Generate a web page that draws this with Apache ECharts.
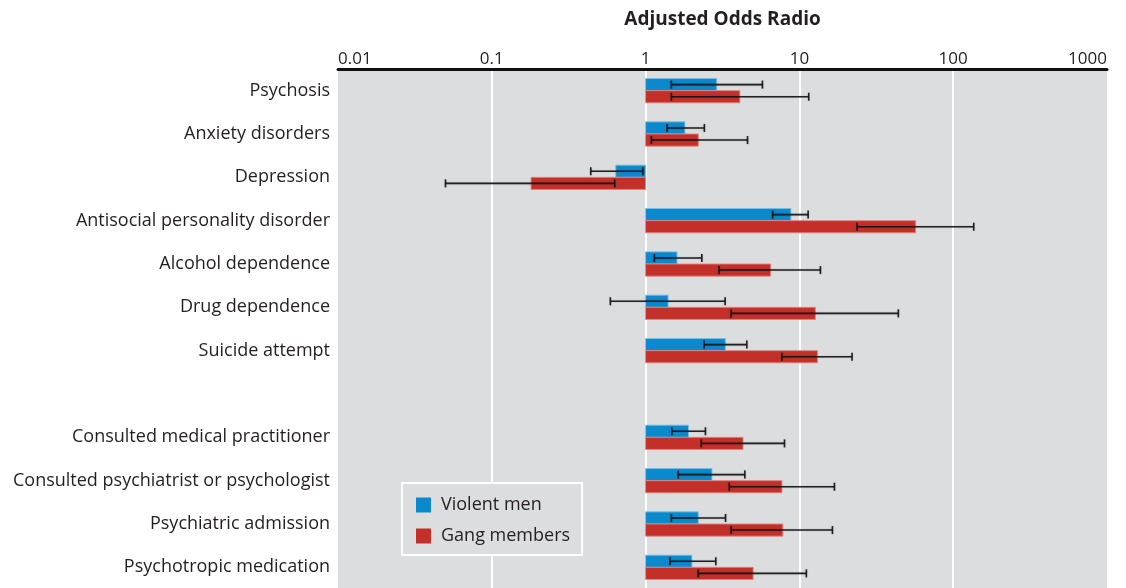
<!DOCTYPE html>
<html>
<head>
<meta charset="utf-8">
<script src="https://cdn.jsdelivr.net/npm/echarts@6/dist/echarts.min.js"></script>
<style>
  html, body { margin: 0; padding: 0; background: #ffffff; }
  #chart { width: 1126px; height: 588px; }
</style>
</head>
<body>
<div id="chart"></div>
<script>
// Row labels (blank entry separates the two groups of outcomes)
const categories = [
  'Psychosis',
  'Anxiety disorders',
  'Depression',
  'Antisocial personality disorder',
  'Alcohol dependence',
  'Drug dependence',
  'Suicide attempt',
  '',
  'Consulted medical practitioner',
  'Consulted psychiatrist or psychologist',
  'Psychiatric admission',
  'Psychotropic medication'
];

// Adjusted odds ratios with 95% confidence limits
const violentOR   = [2.9, 1.8, 0.64, 8.8, 1.6, 1.4, 3.3, null, 1.9, 2.7, 2.2, 2.0];
const violentLow  = [1.47, 1.38, 0.44, 6.7, 1.14, 0.59, 2.4, null, 1.48, 1.63, 1.47, 1.44];
const violentHigh = [5.75, 2.41, 0.96, 11.4, 2.32, 3.29, 4.55, null, 2.45, 4.42, 3.31, 2.86];

const gangOR   = [4.1, 2.2, 0.18, 57, 6.5, 12.7, 13.1, null, 4.3, 7.7, 7.8, 5.0];
const gangLow  = [1.47, 1.09, 0.05, 23.7, 3.0, 3.6, 7.7, null, 2.3, 3.5, 3.6, 2.2];
const gangHigh = [11.5, 4.6, 0.63, 136, 13.7, 44, 22, null, 8.0, 16.9, 16.4, 11.1];

const tickLabels = ['0.01', '0.1', '1', '10', '100', '1000'];

const FONT = '"Open Sans"';

function rows(or, low, high) {
  const out = [];
  for (let i = 0; i < categories.length; i++) {
    if (or[i] == null) continue;
    out.push([or[i], i, low[i], high[i]]);
  }
  return out;
}

// Bar drawn from OR = 1 to the estimate, plus its confidence interval
function makeRenderer(side, fill, edge) {
  return function (params, api) {
    const or = api.value(0), cat = api.value(1);
    const low = api.value(2), high = api.value(3);
    const band = api.size([0, 1])[1];
    const barH = band * 0.28;
    const base = api.coord([1, cat]);
    const end = api.coord([or, cat]);
    const y0 = side < 0 ? base[1] - barH : base[1];
    const yc = y0 + barH / 2;
    const xa = Math.min(base[0], end[0]);
    const xb = Math.max(base[0], end[0]);
    const pLow = api.coord([low, cat])[0];
    const pHigh = api.coord([high, cat])[0];
    const cap = 4;
    const eb = { stroke: 'rgba(20,20,20,0.92)', lineWidth: 1.6,
      shadowColor: 'rgba(0,0,0,0.25)', shadowBlur: 1.5 };
    return {
      type: 'group',
      children: [
        { type: 'rect', shape: { x: xa, y: y0, width: xb - xa, height: barH },
          style: { fill: fill, stroke: edge, lineWidth: 1 } },
        { type: 'line', shape: { x1: pLow, y1: yc, x2: pHigh, y2: yc }, style: eb },
        { type: 'line', shape: { x1: pLow, y1: yc - cap, x2: pLow, y2: yc + cap }, style: eb },
        { type: 'line', shape: { x1: pHigh, y1: yc - cap, x2: pHigh, y2: yc + cap }, style: eb }
      ]
    };
  };
}

const chart = echarts.init(document.getElementById('chart'), null, { renderer: 'canvas' });

chart.setOption({
  animation: false,
  backgroundColor: '#ffffff',
  textStyle: { fontFamily: FONT },
  grid: {
    left: 338, right: 19, top: 69, height: 520,
    outerBoundsMode: 'none',
    containLabel: false,
    show: true, backgroundColor: '#dcdddf', borderWidth: 0
  },
  legend: {
    orient: 'vertical',
    left: 402, top: 483,
    padding: [13, 12, 10, 14],
    itemWidth: 15, itemHeight: 15, itemGap: 13,
    backgroundColor: '#dcdddf',
    borderColor: '#ffffff', borderWidth: 2, borderRadius: 0,
    icon: 'rect',
    textStyle: { fontSize: 18, lineHeight: 15, color: '#231f20', fontFamily: FONT,
      padding: [0, 0, 0, 5] },
    data: ['Violent men', 'Gang members']
  },
  xAxis: {
    type: 'log', logBase: 10, min: 0.01, max: 1000,
    position: 'top',
    name: 'Adjusted Odds Radio',
    nameLocation: 'middle', nameGap: 40,
    nameTextStyle: { fontSize: 19, fontWeight: 'bold', color: '#231f20', fontFamily: FONT },
    axisLine: { show: true, onZero: false, lineStyle: { color: '#111', width: 3 } },
    axisTick: { show: false },
    axisLabel: {
      fontSize: 17, color: '#231f20', margin: 1, fontFamily: FONT,
      alignMinLabel: 'left', alignMaxLabel: 'right',
      formatter: function (v) {
        const k = Math.round(Math.log10(v)) + 2;
        return tickLabels[k] !== undefined ? tickLabels[k] : '';
      }
    },
    splitLine: { show: true, showMinLine: false, showMaxLine: false,
      lineStyle: { color: '#ffffff', width: 2 } },
    minorTick: { show: false }
  },
  yAxis: {
    type: 'category', data: categories, inverse: true,
    axisLine: { show: false }, axisTick: { show: false },
    splitLine: { show: false },
    axisLabel: { fontSize: 18, color: '#231f20', margin: 8, fontFamily: FONT }
  },
  series: [
    {
      name: 'Violent men', type: 'custom',
      itemStyle: { color: '#0a89cc' },
      renderItem: makeRenderer(-1, '#0a89cc', 'rgba(120,190,230,0.9)'),
      encode: { x: [0, 2, 3], y: 1 },
      data: rows(violentOR, violentLow, violentHigh),
      clip: true
    },
    {
      name: 'Gang members', type: 'custom',
      itemStyle: { color: '#c3302a' },
      renderItem: makeRenderer(1, '#c3302a', 'rgba(225,130,125,0.9)'),
      encode: { x: [0, 2, 3], y: 1 },
      data: rows(gangOR, gangLow, gangHigh),
      clip: true
    }
  ]
});
</script>
</body>
</html>
